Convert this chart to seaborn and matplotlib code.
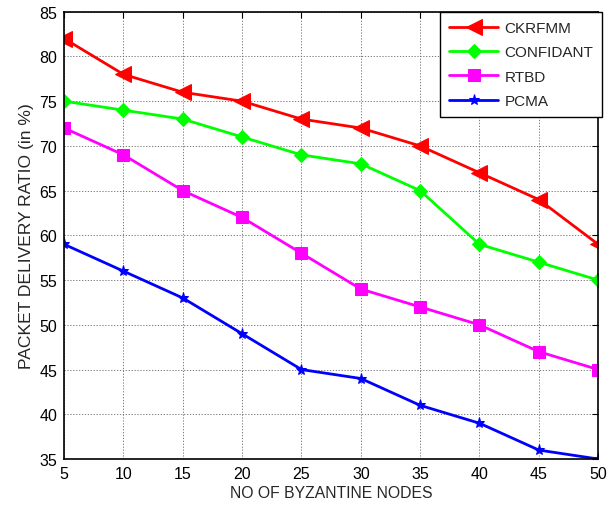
import matplotlib
matplotlib.use("Agg")
import matplotlib.pyplot as plt
import seaborn as sns
import pandas as pd

nodes = [5, 10, 15, 20, 25, 30, 35, 40, 45, 50]
ckrfmm = [82, 78, 76, 75, 73, 72, 70, 67, 64, 59]
confidant = [75, 74, 73, 71, 69, 68, 65, 59, 57, 55]
rtbd = [72, 69, 65, 62, 58, 54, 52, 50, 47, 45]
pcma = [59, 56, 53, 49, 45, 44, 41, 39, 36, 35]

series = ["CKRFMM", "CONFIDANT", "RTBD", "PCMA"]
colors = ["#ff0000", "#00ff00", "#ff00ff", "#0000ff"]
markers = ["<", "D", "s", "*"]
msizes = [11, 7, 9, 8]

df = pd.DataFrame({"nodes": nodes, "CKRFMM": ckrfmm, "CONFIDANT": confidant,
                   "RTBD": rtbd, "PCMA": pcma})
long = df.melt(id_vars="nodes", var_name="scheme", value_name="pdr")

sns.set_style("white")
plt.rcParams["font.family"] = ["Liberation Sans", "DejaVu Sans"]

fig = plt.figure(figsize=(6.11, 5.10), dpi=100)
ax = fig.add_axes([0.105, 0.098, 0.874, 0.877])

for name, c, m, ms in zip(series, colors, markers, msizes):
    sub = long[long["scheme"] == name]
    sns.lineplot(data=sub, x="nodes", y="pdr", ax=ax, color=c, marker=m,
                 markersize=ms, markeredgecolor=c, markerfacecolor=c,
                 linewidth=2, label=name)

ax.set_xlim(5, 50)
ax.set_ylim(35, 85)
ax.set_xticks(nodes)
ax.set_yticks(range(35, 86, 5))
ax.tick_params(direction="in", length=4, labelsize=11.5, colors="black",
               top=True, right=True, pad=5)
ax.grid(True, color="#666666", linestyle=(0, (1.5, 2)), linewidth=0.6)
for s in ax.spines.values():
    s.set_color("black")
    s.set_linewidth(1.2)
ax.set_xlabel("NO OF BYZANTINE NODES", fontsize=11.3, labelpad=3)
ax.set_ylabel("PACKET DELIVERY RATIO (in %)", fontsize=12.6, labelpad=4)

leg = ax.legend(loc="upper right", bbox_to_anchor=(1.008, 1.0), fontsize=11,
                frameon=True, fancybox=False, edgecolor="black", framealpha=1,
                borderaxespad=0.0, borderpad=0.6, handlelength=3.2,
                handletextpad=0.4, labelspacing=0.68)
leg.get_frame().set_linewidth(1.0)

fig.savefig("out.png", dpi=100)
